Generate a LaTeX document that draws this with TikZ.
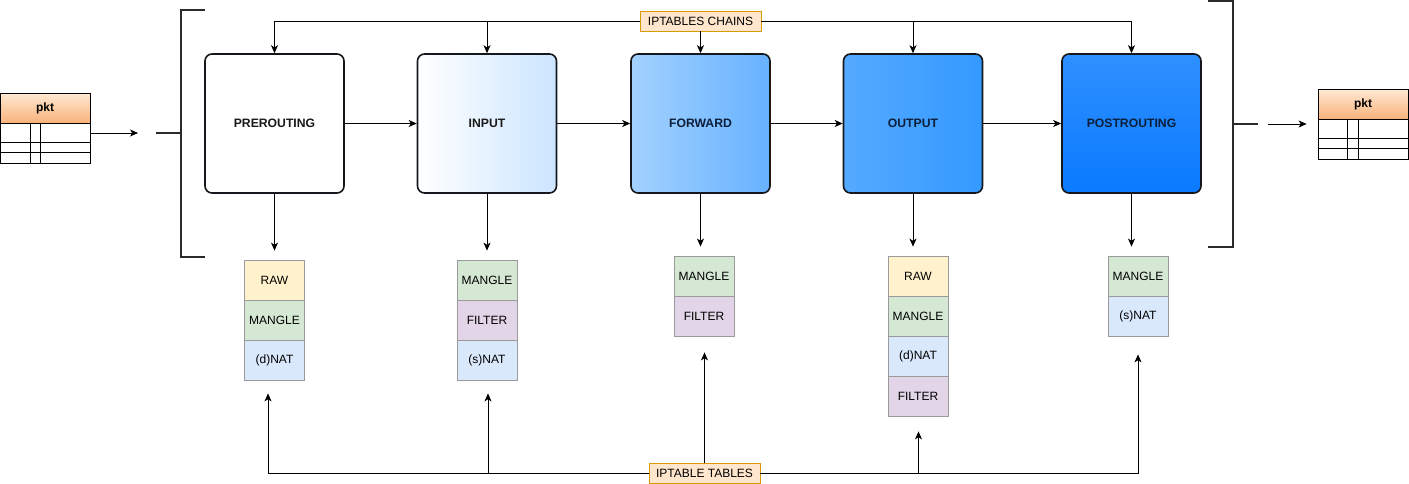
\documentclass[tikz,border=0pt]{standalone}
\usepackage{fontspec}
\setmainfont{Liberation Sans}
\usetikzlibrary{arrows.meta,calc}

\definecolor{lblfill}{HTML}{FFE6CC}
\definecolor{lbldraw}{HTML}{D79B00}
\definecolor{rawc}{HTML}{FFF2CC}
\definecolor{manglec}{HTML}{D5E8D4}
\definecolor{filterc}{HTML}{E1D5E7}
\definecolor{natc}{HTML}{DAE8FC}
\definecolor{celldraw}{HTML}{9A9A9A}
\definecolor{boxdraw}{HTML}{15171C}
\definecolor{navytext}{HTML}{0C1E3A}
\definecolor{brk}{HTML}{2A2A2A}
\definecolor{inR}{HTML}{CCE5FF}
\definecolor{fwdL}{HTML}{A3D1FF}
\definecolor{fwdR}{HTML}{66B2FF}
\definecolor{outL}{HTML}{55AAFF}
\definecolor{outR}{HTML}{3399FF}
\definecolor{postT}{HTML}{2E90FF}
\definecolor{postB}{HTML}{0A7AFF}
\definecolor{pktT}{HTML}{FFE9D4}
\definecolor{pktB}{HTML}{F9B27A}

\tikzset{
  arr/.style={-{Stealth[length=8pt,width=7pt,inset=2.2pt]}, line width=0.8pt},
  chain/.style={draw=boxdraw, line width=1.6pt, rounded corners=7pt,
    minimum width=139pt, minimum height=139pt, inner sep=0pt,
    font=\fontsize{12.2}{14}\selectfont\bfseries},
  cell/.style={draw=celldraw, line width=0.8pt, minimum width=60pt,
    minimum height=40pt, inner sep=0pt, font=\fontsize{12}{14}\selectfont},
  tag/.style={draw=lbldraw, fill=lblfill, line width=0.8pt, inner sep=0pt,
    minimum height=20pt, font=\fontsize{12}{14}\selectfont},
  pkthead/.style={draw, line width=0.8pt, top color=pktT, bottom color=pktB,
    minimum width=90pt, minimum height=30pt, inner sep=0pt,
    font=\fontsize{12}{14}\selectfont\bfseries},
  pktbody/.style={draw, line width=0.8pt, minimum width=90pt,
    minimum height=40pt, inner sep=0pt},
  pktrule/.style={line width=0.7pt},
  bracket/.style={draw=brk, line width=1.8pt},
}

\begin{document}
\begin{tikzpicture}[x=1pt, y=-1pt]
\useasboundingbox (0,0) rectangle (1409,483);

% incoming packet
\node[pkthead] (pktLh) at (45,108) {pkt};
\node[pktbody] (pktLb) at (45,143) {};
\draw[pktrule] ($(pktLb.north west)+(0,20)$) -- ($(pktLb.north east)+(0,20)$)
  ($(pktLb.north west)+(0,30)$) -- ($(pktLb.north east)+(0,30)$)
  ($(pktLb.north west)+(31,0)$) -- ($(pktLb.south west)+(31,0)$)
  ($(pktLb.north west)+(41,0)$) -- ($(pktLb.south west)+(41,0)$);
\coordinate (inTip) at (138,133);
\draw[arr] (inTip -| pktLb.east) -- (inTip);

% outgoing packet
\node[pkthead] (pktRh) at (1363,104) {pkt};
\node[pktbody] (pktRb) at (1363,139) {};
\draw[pktrule] ($(pktRb.north west)+(0,20)$) -- ($(pktRb.north east)+(0,20)$)
  ($(pktRb.north west)+(0,30)$) -- ($(pktRb.north east)+(0,30)$)
  ($(pktRb.north west)+(30,0)$) -- ($(pktRb.south west)+(30,0)$)
  ($(pktRb.north west)+(41,0)$) -- ($(pktRb.south west)+(41,0)$);
\coordinate (outStart) at (1268,124);
\draw[arr, shorten >=11pt] (outStart) -- (outStart -| pktRb.west);

% brackets around the chain sequence
\coordinate (bL1) at (205,10);
\coordinate (bL2) at (181,10);
\coordinate (bL3) at (181,257);
\coordinate (bL4) at (205,257);
\coordinate (bLt) at (156,133);
\draw[bracket] (bL1) -- (bL2) -- (bL3) -- (bL4);
\draw[bracket] (bLt) -- (bLt -| bL2);
\coordinate (bR1) at (1208,1);
\coordinate (bR2) at (1233,1);
\coordinate (bR3) at (1233,247);
\coordinate (bR4) at (1208,247);
\coordinate (bRt) at (1258,124);
\draw[bracket] (bR1) -- (bR2) -- (bR3) -- (bR4);
\draw[bracket] (bRt) -- (bRt -| bR2);

% chains
\node[chain, fill=white, text=black!90] (pre) at (274.5,123.5) {PREROUTING};
\node[chain, left color=white, right color=inR, text=black!90] (inp) at (487,123.5) {INPUT};
\node[chain, left color=fwdL, right color=fwdR, text=navytext] (fwd) at (700.5,123.5) {FORWARD};
\node[chain, left color=outL, right color=outR, text=navytext] (out) at (913,123.5) {OUTPUT};
\node[chain, top color=postT, bottom color=postB, text=navytext] (post) at (1131.5,123.5) {POSTROUTING};

\draw[arr] (pre) -- (inp);
\draw[arr] (inp) -- (fwd);
\draw[arr] (fwd) -- (out);
\draw[arr] (out) -- (post);

% chain label on top
\node[tag, minimum width=121pt] (chainsLbl) at (700.5,21) {IPTABLES CHAINS};
\draw[arr] (chainsLbl.west) -| (pre.north);
\draw[arr] (chainsLbl.west) -| (inp.north);
\draw[arr] (chainsLbl.south) -- (fwd.north);
\draw[arr] (chainsLbl.east) -| (out.north);
\draw[arr] (chainsLbl.east) -| (post.north);

% tables per chain
\node[cell, fill=rawc]    (preT1) at (274.5,280) {RAW};
\node[cell, fill=manglec] (preT2) at (274.5,320) {MANGLE};
\node[cell, fill=natc]    (preT3) at (274.5,360) {(d)NAT};

\node[cell, fill=manglec] (inpT1) at (487,280) {MANGLE};
\node[cell, fill=filterc] (inpT2) at (487,320) {FILTER};
\node[cell, fill=natc]    (inpT3) at (487,360) {(s)NAT};

\node[cell, fill=manglec] (fwdT1) at (704,276) {MANGLE};
\node[cell, fill=filterc] (fwdT2) at (704,316) {FILTER};

\node[cell, fill=rawc]    (outT1) at (918,276) {RAW};
\node[cell, fill=manglec] (outT2) at (918,316) {MANGLE};
\node[cell, fill=natc]    (outT3) at (918,356) {(d)NAT};
\node[cell, fill=filterc] (outT4) at (918,396) {FILTER};

\node[cell, fill=manglec] (postT1) at (1138,276) {MANGLE};
\node[cell, fill=natc]    (postT2) at (1138,316) {(s)NAT};

\draw[arr, shorten >=9pt] (pre.south) -- (pre.south |- preT1.north);
\draw[arr, shorten >=9pt] (inp.south) -- (inp.south |- inpT1.north);
\draw[arr, shorten >=9pt] (fwd.south) -- (fwd.south |- fwdT1.north);
\draw[arr, shorten >=9pt] (out.south) -- (out.south |- outT1.north);
\draw[arr, shorten >=9pt] (post.south) -- (post.south |- postT1.north);

% table label at the bottom
\node[tag, minimum width=111pt] (tablesLbl) at (704.5,473) {IPTABLE TABLES};
\draw[arr] (tablesLbl.west) -| ([xshift=-6.5pt,yshift=-13pt]preT3.south);
\draw[arr] (tablesLbl.west) -| ([xshift=1pt,yshift=-13pt]inpT3.south);
\draw[arr] (tablesLbl.north) -- ([yshift=-16pt]tablesLbl.north |- fwdT2.south);
\draw[arr] (tablesLbl.east) -| ([xshift=0.5pt,yshift=-15pt]outT4.south);
\draw[arr] (tablesLbl.east) -| ([yshift=-18pt]postT2.south);
\end{tikzpicture}
\end{document}
